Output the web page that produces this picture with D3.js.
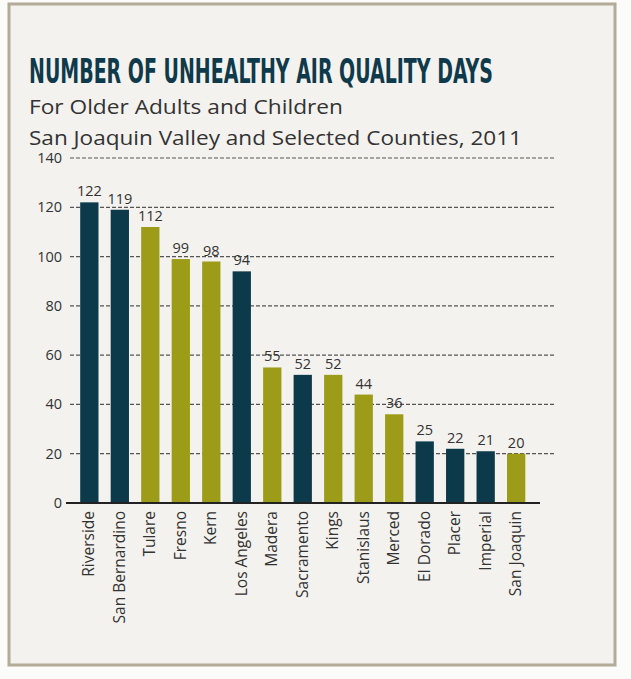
<!DOCTYPE html>
<html><head><meta charset="utf-8">
<script src="https://cdn.jsdelivr.net/npm/d3@7"></script>
<style>body{margin:0;background:#fbfbf9}</style>
</head><body>
<div id="chart"></div>
<script>
const counties = ["Riverside","San Bernardino","Tulare","Fresno","Kern","Los Angeles","Madera","Sacramento","Kings","Stanislaus","Merced","El Dorado","Placer","Imperial","San Joaquin"];
const days = [122,119,112,99,98,94,55,52,52,44,36,25,22,21,20];
// true = San Joaquin Valley county
const sjv = [false,false,true,true,true,false,true,false,true,true,true,false,false,false,true];
const yTicks = [0,20,40,60,80,100,120,140];

const svg = d3.select("#chart").append("svg").attr("width",631).attr("height",679);
svg.append("rect").attr("width",631).attr("height",679).attr("fill","#fbfbf9");
svg.append("rect").attr("x",9).attr("y",4).attr("width",606).attr("height",661)
  .attr("fill","#f3f2ee").attr("stroke","#b3aa98").attr("stroke-width",3);

svg.append("text").attr("x",29).attr("y",83).attr("textLength",464).attr("lengthAdjust","spacingAndGlyphs")
  .attr("font-family","DejaVu Sans Condensed").attr("font-weight","bold").attr("font-size",34)
  .attr("fill","#0f3a4b").text("NUMBER OF UNHEALTHY AIR QUALITY DAYS");
svg.append("text").attr("x",29).attr("y",114).attr("font-family","Open Sans").attr("font-size",20)
  .attr("textLength",314).attr("lengthAdjust","spacingAndGlyphs")
  .attr("fill","#333").text("For Older Adults and Children");
svg.append("text").attr("x",29).attr("y",145).attr("font-family","Open Sans").attr("font-size",20)
  .attr("textLength",493).attr("lengthAdjust","spacingAndGlyphs")
  .attr("fill","#333").text("San Joaquin Valley and Selected Counties, 2011");

const x = d3.scaleBand().domain(counties).range([68,537.5]).padding(0.4);
const y = d3.scaleLinear().domain([0,140]).range([503,158]);

svg.append("g").selectAll("line").data(yTicks.slice(1)).join("line")
  .attr("x1",70).attr("x2",555).attr("y1",d=>y(d)).attr("y2",d=>y(d))
  .attr("stroke","#555").attr("stroke-width",1.2).attr("stroke-dasharray","4,2");
svg.append("g").selectAll("text").data(yTicks).join("text")
  .attr("x",62).attr("y",d=>y(d)+5).attr("text-anchor","end")
  .attr("font-family","Open Sans").attr("font-size",14.5).attr("fill","#333").text(d=>d);

svg.append("g").selectAll("rect").data(counties).join("rect")
  .attr("x",d=>x(d)).attr("width",x.bandwidth())
  .attr("y",(d,i)=>y(days[i])).attr("height",(d,i)=>y(0)-y(days[i]))
  .attr("fill",(d,i)=>sjv[i]?"#9c9c19":"#0d3a4a");

svg.append("g").selectAll("text").data(counties).join("text")
  .attr("x",d=>x(d)+x.bandwidth()/2).attr("y",(d,i)=>y(days[i])-6)
  .attr("text-anchor","middle").attr("font-family","Open Sans").attr("font-size",14.5)
  .attr("fill","#333").text((d,i)=>days[i]);

svg.append("line").attr("x1",66).attr("x2",540).attr("y1",y(0)).attr("y2",y(0))
  .attr("stroke","#222").attr("stroke-width",2);

svg.append("g").selectAll("text").data(counties).join("text")
  .attr("transform",d=>`translate(${x(d)+x.bandwidth()/2+5},511) rotate(-90)`)
  .attr("text-anchor","end").attr("font-family","Open Sans").attr("font-size",15.5)
  .attr("fill","#333").text(d=>d);
</script>
</body></html>
